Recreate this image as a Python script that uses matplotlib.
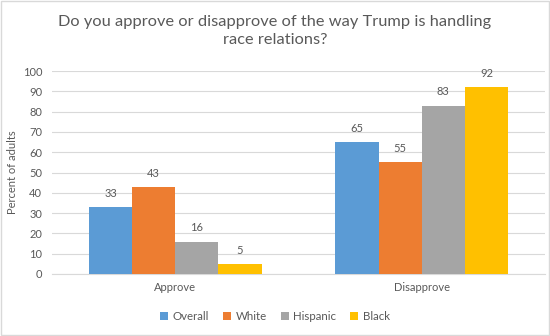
import matplotlib
matplotlib.use("Agg")
import matplotlib.pyplot as plt
import numpy as np

categories = ["Approve", "Disapprove"]
series = ["Overall", "White", "Hispanic", "Black"]
overall = [33, 65]
white = [43, 55]
hispanic = [16, 83]
black = [5, 92]
yticks = [0, 10, 20, 30, 40, 50, 60, 70, 80, 90, 100]

colors = ["#5B9BD5", "#ED7D31", "#A5A5A5", "#FFC000"]
text_color = "#595959"

plt.rcParams["font.family"] = ["Lato", "DejaVu Sans"]

fig = plt.figure(figsize=(5.5, 3.36), dpi=100)
ax = fig.add_axes([52 / 550, 1 - 274 / 336, (545 - 52) / 550, (274 - 71) / 336])

values = [overall, white, hispanic, black]
x = np.arange(len(categories))
width = 0.7 / 4
for i, (name, vals, c) in enumerate(zip(series, values, colors)):
    pos = x + (i - 1.5) * width
    bars = ax.bar(pos, vals, width, color=c, label=name, zorder=3)
    for b, v in zip(bars, vals):
        ax.text(b.get_x() + b.get_width() / 2, v + 4, str(v), ha="center",
                va="bottom", fontsize=8, color=text_color)

ax.set_xlim(-0.5, 1.5)
ax.set_ylim(0, 100)
ax.set_yticks(yticks)
ax.set_xticks(x)
ax.set_xticklabels(categories)
ax.tick_params(axis="both", length=0, labelsize=8, colors=text_color)
ax.tick_params(axis="y", pad=7)
ax.tick_params(axis="x", pad=6)
ax.grid(axis="y", color="#D9D9D9", linewidth=0.8, zorder=0)
for s in ["top", "right", "left"]:
    ax.spines[s].set_visible(False)
ax.spines["bottom"].set_color("#D9D9D9")

fig.text(13 / 550, 1 - 172 / 336, "Percent of adults", rotation=90, ha="center",
         va="center", fontsize=8, color=text_color)

fig.suptitle("Do you approve or disapprove of the way Trump is handling\nrace relations?",
             y=0.955, fontsize=11.8, color=text_color, linespacing=1.35)

leg = fig.legend(loc="lower center", bbox_to_anchor=(0.5, 0.01), ncol=4,
                 frameon=False, fontsize=8.3, handlelength=0.7, handleheight=0.7,
                 handletextpad=0.4, columnspacing=1.2)
for t in leg.get_texts():
    t.set_color(text_color)

fig.patches.append(plt.Rectangle((0.001, 0.003), 0.998, 0.994, transform=fig.transFigure,
                                 fill=False, edgecolor="#D9D9D9", linewidth=1))

fig.savefig("out.png", dpi=100)
